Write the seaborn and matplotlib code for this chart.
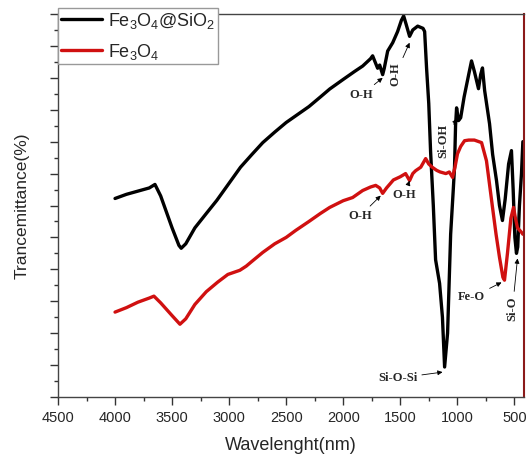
import numpy as np
import pandas as pd
import seaborn as sns
from matplotlib import pyplot as plt

# FTIR spectra (x = wavenumber, y = arbitrary transmittance units)
sio2_x = [4000, 3900, 3800, 3700, 3650, 3600, 3500, 3440, 3420, 3380, 3300, 3200, 3108, 3000,
          2900, 2800, 2705, 2600, 2500, 2416, 2300, 2200, 2118, 2000, 1900, 1829, 1760, 1742,
          1715, 1698, 1680, 1654, 1640, 1610, 1566, 1523, 1490, 1470, 1450, 1418, 1390, 1347,
          1300, 1286, 1269, 1250, 1234, 1210, 1190, 1155, 1130, 1111, 1085, 1058, 1035, 1024,
          1015, 1006, 989, 970, 940, 900, 875, 850, 814, 795, 779, 760, 717, 690, 656, 630,
          604, 580, 550, 525, 510, 495, 481, 470, 455, 437, 425]
sio2_y = [6.22, 6.35, 6.45, 6.55, 6.66, 6.3, 5.3, 4.75, 4.66, 4.8, 5.3, 5.75, 6.16, 6.7,
          7.2, 7.6, 7.97, 8.3, 8.6, 8.81, 9.1, 9.4, 9.65, 9.95, 10.2, 10.37, 10.6, 10.69,
          10.45, 10.3, 10.4, 10.1, 10.3, 10.84, 11.1, 11.45, 11.8, 11.94, 11.7, 11.3, 11.5, 11.62,
          11.55, 11.45, 10.3, 9.2, 7.7, 6.0, 4.3, 3.56, 2.5, 0.94, 2.0, 5.1, 6.5, 7.2,
          8.5, 9.06, 8.66, 8.75, 9.4, 10.1, 10.53, 10.2, 9.66, 10.1, 10.31, 9.6, 8.56, 7.6, 6.78, 6.0,
          5.53, 6.2, 7.3, 7.72, 6.5, 5.0, 4.5, 4.7, 6.0, 7.0, 8.0]

fe_x = [4000, 3900, 3800, 3700, 3659, 3600, 3500, 3431, 3380, 3300, 3200, 3100, 3011, 2906,
        2850, 2800, 2705, 2600, 2500, 2416, 2300, 2200, 2118, 2000, 1917, 1829, 1760, 1715,
        1680, 1654, 1620, 1560, 1500, 1453, 1418, 1390, 1365, 1320, 1277, 1250, 1216, 1180,
        1150, 1129, 1100, 1070, 1041, 1020, 998, 970, 936, 900, 850, 787, 744, 691, 660,
        630, 600, 586, 560, 530, 507, 490, 472, 437, 425]
fe_y = [2.66, 2.8, 2.97, 3.1, 3.16, 2.95, 2.55, 2.28, 2.45, 2.9, 3.3, 3.6, 3.84, 3.97,
        4.1, 4.25, 4.53, 4.8, 5.0, 5.22, 5.5, 5.75, 5.94, 6.15, 6.25, 6.47, 6.58, 6.63,
        6.55, 6.38, 6.55, 6.8, 6.9, 7.0, 6.78, 7.0, 7.09, 7.2, 7.47, 7.3, 7.19, 7.1,
        7.05, 7.03, 7.0, 7.05, 6.88, 7.2, 7.62, 7.85, 8.03, 8.05, 8.05, 7.97, 7.4, 5.94, 5.1,
        4.38, 3.75, 3.66, 4.5, 5.6, 5.94, 5.6, 5.3, 5.16, 5.1]

sample_names = ['Fe$_3$O$_4$@SiO$_2$', 'Fe$_3$O$_4$']
colors = ['black', '#d01010']

df = pd.concat([
    pd.DataFrame({'wn': sio2_x, 'T': sio2_y, 'sample': sample_names[0]}),
    pd.DataFrame({'wn': fe_x, 'T': fe_y, 'sample': sample_names[1]}),
])

sns.set_style('ticks')
plt.rcParams['font.family'] = ['Liberation Sans', 'DejaVu Sans']
plt.rcParams['mathtext.default'] = 'regular'

fig = plt.figure(figsize=(5.26, 4.55), dpi=100)
ax = fig.add_axes([58/526, 58/455, 466/526, 383/455])

sns.lineplot(data=df, x='wn', y='T', hue='sample', palette=colors, estimator=None,
             sort=False, linewidth=2.4, ax=ax)

ax.set_xlim(4500, 415)
ax.set_ylim(0, 12)
ax.set_xticks(np.arange(4500, 499, -500))
ax.set_xticks(np.arange(4250, 499, -500), minor=True)
ax.set_yticks(np.arange(0, 12.1, 1))
ax.set_yticks(np.arange(0.5, 12, 1), minor=True)
ax.set_yticklabels([])
ax.tick_params(axis='both', which='major', length=6, width=1, direction='out', labelsize=10.5, color='#333333')
ax.tick_params(axis='both', which='minor', length=3, width=1, direction='out', color='#333333')
ax.tick_params(axis='x', pad=4)

for s in ax.spines.values():
    s.set_linewidth(1)
    s.set_color('#444444')
ax.spines['right'].set_color('#8b1a1a')
ax.spines['right'].set_linewidth(1.5)

ax.set_xlabel('Wavelenght(nm)', fontsize=13, labelpad=9)
ax.set_ylabel('Trancemittance(%)', fontsize=12.5, labelpad=11)

ax.legend(handles=ax.get_lines()[:2], labels=sample_names, loc='upper left',
          bbox_to_anchor=(58/526, 1 - 8/455), bbox_transform=fig.transFigure,
          fontsize=13, frameon=True, fancybox=False, edgecolor='#999999', framealpha=1,
          handlelength=2.3, handletextpad=0.3, labelspacing=0.6, borderpad=0.15,
          borderaxespad=0)

# peak assignments
fnt = dict(family='Liberation Serif', weight='bold', fontsize=9)
arr = dict(arrowstyle='-|>', color='black', lw=0.6, mutation_scale=7, shrinkA=1, shrinkB=0)
ax.annotate('O-H', xy=(1654, 10.0), xytext=(1838, 9.47), ha='center', va='center', arrowprops=arr, **fnt)
ax.annotate('O-H', xy=(1418, 11.1), xytext=(1540, 10.12), ha='center', va='center', rotation=90, arrowprops=arr, **fnt)
ax.annotate('Si-OH', xy=(1003, 8.72), xytext=(1120, 8.03), ha='center', va='center', rotation=90, arrowprops=arr, **fnt)
ax.annotate('O-H', xy=(1418, 6.78), xytext=(1461, 6.34), ha='center', va='center', arrowprops=arr, **fnt)
ax.annotate('O-H', xy=(1671, 6.31), xytext=(1855, 5.66), ha='center', va='center', arrowprops=arr, **fnt)
ax.annotate('Si-O-Si', xy=(1129, 0.78), xytext=(1523, 0.59), ha='center', va='center', arrowprops=arr, **fnt)
ax.annotate('Fe-O', xy=(612, 3.59), xytext=(875, 3.12), ha='center', va='center', arrowprops=arr, **fnt)
ax.annotate('Si-O', xy=(472, 4.34), xytext=(516, 2.78), ha='center', va='center', rotation=90, arrowprops=arr, **fnt)

plt.savefig('out.png', dpi=100)
